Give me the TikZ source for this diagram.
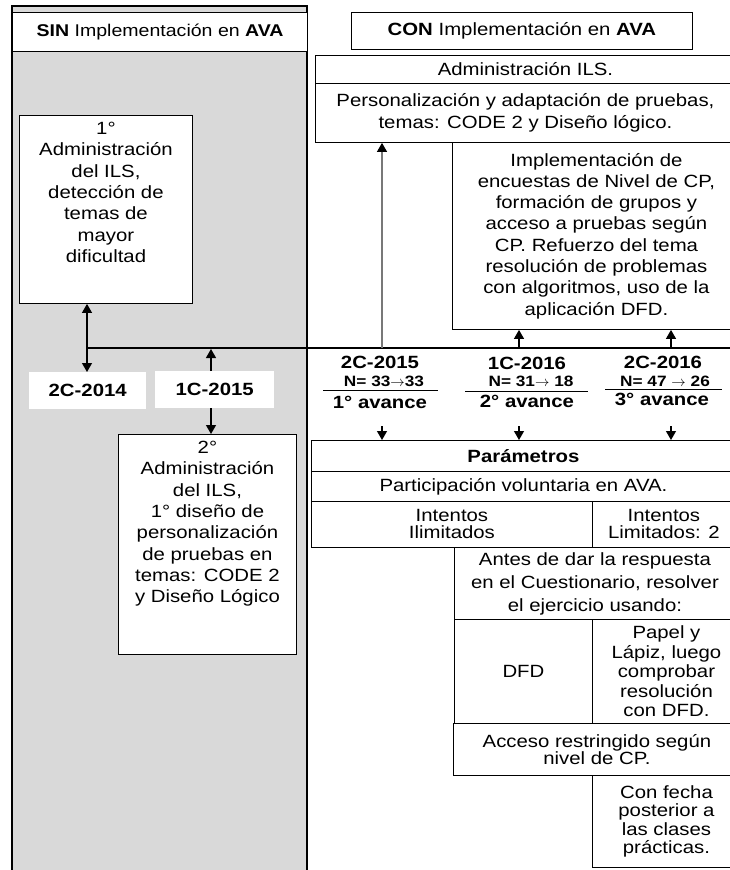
\documentclass[tikz,border=0pt]{standalone}
\usepackage{fontspec}
\setmainfont[FakeStretch=1.15]{Liberation Sans}
\usetikzlibrary{arrows.meta,positioning}
\definecolor{sin-gray}{RGB}{217,217,217}
\definecolor{link-gray}{RGB}{120,120,120}
\newcommand{\bodyfont}{\fontsize{17.7}{21.3}\selectfont}
\newcommand{\tightfont}{\fontsize{17.7}{17}\selectfont}
\newcommand{\smallbold}{\fontsize{15}{16}\selectfont\bfseries}
\newcommand{\toarrow}{$\rightarrow$}

\begin{document}
\begin{tikzpicture}[x=1pt, y=-1pt, font=\bodyfont,
  cell/.style={draw, fill=white, line width=0.9pt, inner sep=0pt, anchor=north west, align=center},
  tag/.style={fill=white, inner sep=0pt, anchor=north west, font=\bodyfont\bfseries},
  txt/.style={inner sep=0pt, align=center},
  conn/.style={line width=1.2pt, -{Triangle[width=10pt,length=9pt,color=black]}},
  bus/.style={line width=1.8pt}]

\useasboundingbox (0,0) rectangle (729,870);

% SIN column
\draw[fill=sin-gray, line width=1.2pt] (12,6) rectangle (307,880);
\node[cell, line width=1.2pt, minimum width=295, minimum height=39, font=\fontsize{17}{20}\selectfont] (sinhead) at (12,12) {\textbf{SIN} Implementación en \textbf{AVA}};

\node[cell, minimum width=173, minimum height=188] (adm1) at (19,115) {};
\node[txt, anchor=north, yshift=-7pt] (adm1txt) at (adm1.north) {1°\\Administración\\del ILS,\\detección de\\temas de\\mayor\\dificultad};

\node[tag, minimum width=117, minimum height=37] (t2014) at (29,372) {2C-2014};
\node[tag, minimum width=119, minimum height=37] (t2015) at (155,371) {1C-2015};

\node[cell, minimum width=178, minimum height=220] (adm2) at (118,434) {};
\node[txt, anchor=north, yshift=-7pt] (adm2txt) at (adm2.north) {2°\\Administración\\del ILS,\\ 1° diseño de\\personalización\\de pruebas en\\temas: CODE 2\\y Diseño Lógico};

% CON column
\node[cell, minimum width=341, minimum height=37] (conhead) at (351,12) {\textbf{CON} Implementación en \textbf{AVA}};
\node[cell, minimum width=420, minimum height=28] (ils) at (315,55) {Administración ILS.};
\node[cell, minimum width=420, minimum height=59] (pers) at (315,83) {Personalización y adaptación de pruebas,\\temas: CODE 2 y Diseño lógico.};
\node[cell, minimum width=288, minimum height=187] (impl) at (452,142) {Implementación de\\encuestas de Nivel de CP,\\formación de grupos y\\acceso a pruebas según\\CP. Refuerzo del tema\\resolución de problemas\\con algoritmos, uso de la\\aplicación DFD.};

% periods
\node[txt, font=\bodyfont\bfseries] (y1) at (380,362) {2C-2015};
\node[txt, font=\smallbold] (n1) at (384,381) {N= 33\toarrow33};
\draw[line width=1pt] (323,390) -- (438,390);
\node[txt, font=\bodyfont\bfseries] (v1) at (380,402) {1° avance};

\node[txt, font=\bodyfont\bfseries] (y2) at (527,363) {1C-2016};
\node[txt, font=\smallbold] (n2) at (531,381) {N= 31\toarrow\ 18};
\draw[line width=1pt] (465,391) -- (588,391);
\node[txt, font=\bodyfont\bfseries] (v2) at (527,401) {2° avance};

\node[txt, font=\bodyfont\bfseries] (y3) at (663,362) {2C-2016};
\node[txt, font=\smallbold] (n3) at (665,381) {N= 47 \toarrow\ 26};
\draw[line width=1pt] (605,389) -- (722,389);
\node[txt, font=\bodyfont\bfseries] (v3) at (662,399) {3° avance};

% parameters
\node[cell, minimum width=424, minimum height=31] (param) at (311,440) {\textbf{Parámetros}};
\node[cell, minimum width=424, minimum height=30] (volun) at (311,471) {Participación voluntaria en AVA.};
\node[cell, minimum width=281, minimum height=46, font=\tightfont] (ilim) at (311,501) {Intentos\\Ilimitados};
\node[cell, minimum width=143, minimum height=46, font=\tightfont] (lim) at (592,501) {Intentos\\Limitados: 2};
\node[cell, minimum width=281, minimum height=72, font=\fontsize{17.7}{23}\selectfont] (antes) at (454,547) {Antes de dar la respuesta\\en el Cuestionario, resolver\\el ejercicio usando:};
\node[cell, minimum width=138, minimum height=104] (dfd) at (454,619) {DFD};
\node[cell, minimum width=148, minimum height=104, font=\fontsize{17.7}{19.5}\selectfont] (papel) at (592,619) {Papel y\\Lápiz, luego\\comprobar\\resolución\\con  DFD.};
\node[cell, minimum width=287, minimum height=52, font=\tightfont] (acceso) at (453,723) {Acceso restringido según\\nivel de CP.};
\node[cell, minimum width=148, minimum height=92, font=\fontsize{17.7}{18.5}\selectfont] (fecha) at (592,775) {Con fecha\\posterior a\\las  clases\\prácticas.};

% Connections
\coordinate (busW) at (87,348);
\coordinate (busE) at (735,348);
\coordinate (c2015) at (211,348);
\coordinate (a1) at (382,348);
\coordinate (a2) at (519,348);
\coordinate (a3) at (671,348);
\coordinate (d1) at (382,426);
\coordinate (d2) at (519,426);
\coordinate (d3) at (671,426);

\draw[bus] (busW) -- (busE);
\draw[conn] (busW) -- (busW |- adm1.south);
\draw[conn] (busW) -- (busW |- t2014.north);
\draw[conn, shorten >=1pt] (c2015 |- t2015.north) -- (c2015);
\draw[conn] (c2015 |- t2015.south) -- (c2015 |- adm2.north);
\draw[conn, draw=link-gray] (a1) -- (a1 |- pers.south);
\draw[conn] (a2) -- (a2 |- impl.south);
\draw[conn] (a3) -- (a3 |- impl.south);
\draw[conn] (d1) -- (d1 |- param.north);
\draw[conn] (d2) -- (d2 |- param.north);
\draw[conn] (d3) -- (d3 |- param.north);
\end{tikzpicture}
\end{document}
